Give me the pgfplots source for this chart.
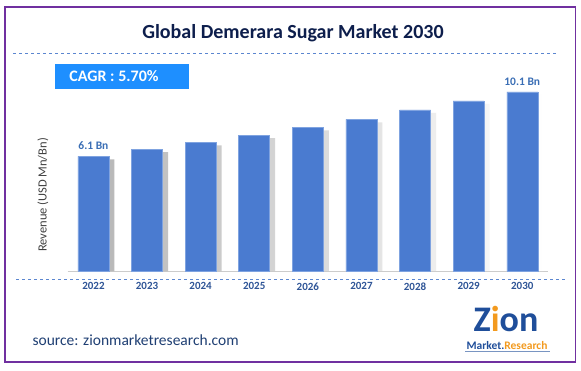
\documentclass[border=0pt]{standalone}
\usepackage{pgfplots}
\pgfplotsset{compat=1.18}
\usepackage{fontspec}
\setmainfont{Carlito}
\definecolor{barblue}{HTML}{4A7BD0}
\definecolor{baredge}{HTML}{7FA3E0}
\definecolor{titlecol}{HTML}{0D1E4C}
\definecolor{yearcol}{HTML}{2F5597}
\definecolor{valcol}{HTML}{3A6EB5}
\definecolor{cagrcol}{HTML}{1E8FFF}
\definecolor{bordercol}{HTML}{7030A0}
\definecolor{dashcol}{HTML}{5B86D0}
\definecolor{zblue}{HTML}{1F4E9A}
\definecolor{zorange}{HTML}{F39A1E}
\definecolor{srccol}{HTML}{1F3F73}
\pgfplotstableread{
x v
0 6.10
1 6.54
2 6.97
3 7.41
4 7.90
5 8.40
6 8.98
7 9.54
8 10.10
}\revenue
\begin{document}
\begin{tikzpicture}[x=1pt,y=1pt]
\useasboundingbox[fill=white] (0,0) rectangle (581,370);
\draw[bordercol, line width=1.5pt] (5,8) rectangle (575.5,363);
\node[font=\bfseries\fontsize{20}{23}\selectfont, text=titlecol] at (293,337) {Global Demerara Sugar Market 2030};
\draw[dashcol, dashed, line width=0.8pt] (13,317) -- (556,317);
\draw[dashcol, dashed, line width=0.8pt] (16,91) -- (566,91);
\fill[cagrcol] (55,281) rectangle (189,306);
\node[font=\bfseries\fontsize{16}{18}\selectfont, text=white] at (114,293.5) {CAGR : 5.70\%};
\node[rotate=90, font=\fontsize{12.5}{14}\selectfont, text=black!75] at (43,175) {Revenue (USD Mn/Bn)};
\begin{axis}[
  at={(67.7pt,99pt)}, anchor=south west,
  scale only axis, width=480.3pt, height=193.5pt,
  xmin=-0.48, xmax=8.48, ymin=0, ymax=12.035,
  axis x line*=bottom, axis y line=none,
  x axis line style={draw=black!20, line width=0.8pt, -},
  xtick=data,
  xticklabels={2022,2023,2024,2025,2026,2027,2028,2029,2030},
  major tick length=0pt,
  xticklabel style={font=\bfseries\fontsize{11}{13}\selectfont, text=yearcol, yshift=-8pt},
  clip=false,
]
\addplot[ybar, bar width=9pt, bar shift=16.5pt, draw=none, left color=black!50, right color=white, opacity=0.55,
  y filter/.expression={y+0.85}] table[x=x, y=v] {\revenue};
\addplot[ybar, bar width=31pt, fill=barblue, draw=baredge, line width=0.5pt,
  y filter/.expression={y+1.035}] table[x=x, y=v] {\revenue};
\addplot[only marks, mark=none, point meta=explicit symbolic,
  nodes near coords, nodes near coords style={font=\bfseries\fontsize{11.5}{13}\selectfont, text=valcol, anchor=south, yshift=3pt},
  y filter/.expression={y+1.035}]
  coordinates {(0,6.1) [6.1 Bn] (8,10.1) [10.1 Bn]};
\end{axis}
\node[anchor=west, font=\fontsize{15.5}{18}\selectfont, text=srccol] at (29,30) {source: zionmarketresearch.com};
\node[font=\bfseries\fontsize{36}{36}\selectfont, inner sep=0pt, anchor=base] at (506,39) {\textcolor{zblue}{Z}\textcolor{zorange}{i}\textcolor{zblue}{on}};
\node[font=\bfseries\fontsize{11.5}{12}\selectfont, inner sep=0pt, anchor=base] at (507,21) {\textcolor{zblue}{Market.}\textcolor{zorange}{Research}};
\draw[zblue!60, line width=0.6pt] (465,19) -- (550,19);
\end{tikzpicture}
\end{document}
